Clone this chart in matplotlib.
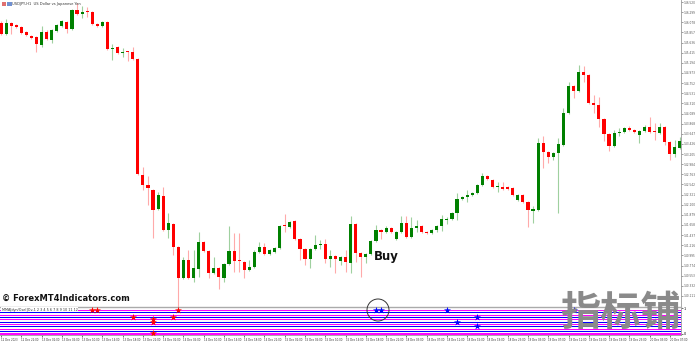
import matplotlib.pyplot as plt
from matplotlib.patches import Ellipse
import numpy as np

plt.rcParams['font.family'] = ['DejaVu Sans', 'Noto Sans CJK SC']

# USDJPY H1 candles (open, high, low, close)
opens = [146.06, 145.82, 146.06, 146.02, 145.98, 145.87, 145.78, 145.76, 145.58, 145.87,
         145.69, 145.89, 146.00, 146.08, 145.93, 146.35, 146.26, 146.30, 146.30, 146.04,
         146.00, 146.08, 145.50, 145.54, 145.41, 145.43, 145.43, 145.28, 142.75, 142.53,
         142.42, 142.01, 142.29, 141.55, 141.68, 141.18, 140.50, 140.90, 140.50, 140.70,
         141.29, 141.09, 140.61, 140.72, 140.50, 140.81, 141.09, 140.87, 140.85, 140.68,
         140.74, 141.07, 141.18, 141.03, 141.07, 141.16, 141.64, 141.62, 141.75, 141.35,
         141.14, 140.92, 141.14, 141.22, 141.24, 140.92, 140.98, 140.87, 140.96, 140.83,
         141.68, 141.05, 140.96, 141.03, 141.31, 141.55, 141.51, 141.59, 141.35, 141.51,
         141.70, 141.40, 141.59, 141.64, 141.51, 141.48, 141.55, 141.64, 141.77, 141.79,
         141.92, 142.23, 142.27, 142.31, 142.36, 142.53, 142.73, 142.64, 142.49, 142.49,
         142.49, 142.47, 142.20, 142.31, 142.16, 141.96, 141.99, 143.45, 143.25, 143.14,
         143.23, 143.40, 144.10, 144.69, 144.58, 144.99, 144.93, 144.32, 144.28, 143.97,
         143.64, 143.38, 143.67, 143.69, 143.77, 143.73, 143.62, 143.71, 143.80, 143.69,
         143.67, 143.80, 143.47, 143.21, 143.34]
highs = [146.11, 146.15, 146.08, 146.04, 146.00, 145.89, 145.80, 145.78, 146.00, 145.91,
         145.93, 146.04, 146.13, 146.11, 146.37, 146.50, 146.43, 146.41, 146.32, 146.06,
         146.11, 146.11, 145.60, 145.56, 145.52, 145.45, 145.54, 145.30, 142.92, 142.73,
         142.44, 142.38, 142.49, 141.92, 141.70, 141.20, 140.96, 141.11, 141.11, 141.51,
         141.31, 141.11, 140.96, 140.74, 140.83, 141.64, 141.48, 141.48, 140.87, 140.90,
         141.11, 141.29, 141.27, 141.14, 141.18, 141.66, 141.90, 141.75, 141.77, 141.38,
         141.16, 141.16, 141.44, 141.33, 141.35, 141.11, 141.00, 140.98, 141.11, 141.86,
         141.70, 141.07, 141.05, 141.33, 141.66, 141.57, 141.64, 141.62, 141.53, 141.86,
         141.86, 141.83, 141.77, 141.66, 141.53, 141.57, 141.66, 141.88, 141.83, 141.94,
         142.36, 142.29, 142.42, 142.38, 142.55, 142.79, 142.75, 142.66, 142.60, 142.60,
         142.51, 142.49, 142.33, 142.33, 142.18, 142.07, 143.56, 143.60, 143.27, 143.25,
         143.56, 144.21, 144.78, 144.71, 145.15, 145.13, 144.95, 144.49, 144.45, 143.99,
         143.67, 143.73, 143.77, 143.80, 143.82, 143.75, 143.73, 143.84, 144.01, 143.88,
         143.88, 143.82, 143.49, 143.51, 143.58]
lows = [145.80, 145.80, 145.82, 145.95, 145.82, 145.78, 145.71, 145.43, 145.54, 145.69,
        145.63, 145.87, 145.98, 145.84, 145.91, 146.24, 146.17, 146.19, 146.02, 145.98,
        145.98, 145.47, 145.26, 145.39, 145.32, 145.23, 145.26, 142.75, 142.42, 142.10,
        141.38, 141.99, 141.53, 141.38, 141.00, 139.87, 140.48, 140.48, 140.42, 140.53,
        141.07, 140.50, 140.59, 140.26, 140.42, 140.79, 140.63, 140.63, 140.50, 140.66,
        140.72, 141.05, 141.00, 141.00, 141.05, 141.14, 141.51, 141.59, 141.33, 140.90,
        140.79, 140.72, 141.11, 141.14, 140.83, 140.74, 140.61, 140.79, 140.63, 140.61,
        140.85, 140.53, 140.83, 141.00, 141.29, 141.35, 141.48, 141.48, 141.33, 141.48,
        141.38, 141.38, 141.51, 141.48, 141.46, 141.46, 141.51, 141.53, 141.68, 141.77,
        141.77, 142.20, 142.16, 142.29, 142.33, 142.51, 142.64, 142.47, 142.38, 142.42,
        142.42, 142.29, 142.18, 142.14, 141.62, 141.70, 141.96, 142.90, 143.01, 143.08,
        141.92, 143.38, 144.08, 144.43, 144.56, 144.78, 144.30, 144.10, 143.80, 143.49,
        143.27, 143.36, 143.60, 143.67, 143.71, 143.67, 143.45, 143.69, 143.67, 143.51,
        143.64, 143.40, 143.08, 143.14, 143.32]
closes = [145.82, 146.06, 146.00, 145.98, 145.84, 145.80, 145.74, 145.60, 145.87, 145.71,
          145.91, 146.02, 146.11, 145.93, 146.35, 146.26, 146.30, 146.28, 146.04, 146.00,
          146.08, 145.50, 145.52, 145.41, 145.43, 145.41, 145.28, 142.77, 142.53, 142.47,
          141.99, 142.31, 141.55, 141.70, 141.18, 140.50, 140.90, 140.50, 140.72, 141.29,
          141.09, 140.61, 140.72, 140.53, 140.81, 141.09, 140.87, 140.85, 140.68, 140.74,
          141.07, 141.18, 141.03, 141.11, 141.16, 141.64, 141.62, 141.72, 141.35, 141.14,
          140.92, 141.14, 141.22, 141.24, 140.92, 140.98, 140.92, 140.96, 140.85, 141.68,
          141.05, 140.96, 141.03, 141.31, 141.55, 141.51, 141.59, 141.51, 141.51, 141.70,
          141.40, 141.59, 141.64, 141.51, 141.48, 141.55, 141.64, 141.79, 141.79, 141.92,
          142.23, 142.27, 142.31, 142.36, 142.53, 142.73, 142.66, 142.49, 142.51, 142.44,
          142.44, 142.31, 142.31, 142.16, 141.99, 142.01, 143.45, 143.25, 143.14, 143.23,
          143.43, 144.10, 144.69, 144.58, 144.99, 144.93, 144.32, 144.28, 143.97, 143.64,
          143.38, 143.67, 143.69, 143.77, 143.73, 143.69, 143.71, 143.80, 143.69, 143.67,
          143.80, 143.47, 143.21, 143.36, 143.49]

price_ticks = [146.520, 146.299, 146.078, 145.857, 145.636, 145.415, 145.194, 144.973,
               144.752, 144.531, 144.310, 144.089, 143.868, 143.647, 143.426, 143.205,
               142.984, 142.763, 142.542, 142.321, 142.100, 141.879, 141.658, 141.437,
               141.216, 140.995, 140.774, 140.553, 140.332, 140.111]

time_labels = ['12 Dec 2023', '12 Dec 22:00', '13 Dec 02:00', '13 Dec 06:00', '13 Dec 10:00',
               '13 Dec 14:00', '13 Dec 18:00', '13 Dec 22:00', '14 Dec 02:00', '14 Dec 06:00',
               '14 Dec 10:00', '14 Dec 14:00', '14 Dec 18:00', '14 Dec 22:00', '15 Dec 02:00',
               '15 Dec 06:00', '15 Dec 10:00', '15 Dec 14:00', '15 Dec 18:00', '15 Dec 22:00',
               '18 Dec 03:00', '18 Dec 07:00', '18 Dec 11:00', '18 Dec 15:00', '18 Dec 19:00',
               '18 Dec 23:00', '19 Dec 03:00', '19 Dec 07:00', '19 Dec 11:00', '19 Dec 15:00',
               '19 Dec 19:00', '19 Dec 23:00', '20 Dec 03:00', '20 Dec 07:00']

# indicator window: level lines and stars
line_levels = [0.93, 0.85, 0.75, 0.67, 0.56, 0.48, 0.39, 0.31, 0.20, 0.12, 0.0]
line_colors = ['magenta', 'blue', 'magenta', 'blue', 'magenta', 'blue',
               'magenta', 'blue', 'magenta', 'blue', 'magenta']
red_star_bar = [18, 19, 26, 30, 30, 30, 34, 35, 120]
red_star_lvl = [0.93, 0.93, 0.67, 0.59, 0.48, 0.04, 0.67, 0.93, 0.93]
blue_star_bar = [74, 75, 88, 90, 94, 94, 113]
blue_star_lvl = [0.93, 0.93, 0.93, 0.48, 0.67, 0.31, 0.93]

W, H = 696, 341
fig = plt.figure(figsize=(W / 100, H / 100), dpi=100)
ax = fig.add_axes([0, 1 - 307 / H, 681 / W, 307 / H])
ax2 = fig.add_axes([0, 1 - 335 / H, 681 / W, 28 / H])

x = np.arange(len(opens))
o = np.array(opens)
c = np.array(closes)
up = c >= o
cols = np.where(up, '#008000', '#ff0000')
wick_cols = np.where(up, '#9fd09f', '#ffaaaa')

ax.vlines(x, lows, highs, colors=wick_cols, lw=0.8, zorder=1)
body = np.where(np.abs(c - o) < 0.025, 0.025, c - o)
ax.bar(x, body, bottom=o, width=0.62, color=cols, lw=0, zorder=2)

ax.set_xlim(-0.2, 134.2)
ax.set_ylim(139.87, 146.564)
ax.set_xticks([])
ax.yaxis.tick_right()
ax.set_yticks(price_ticks)
ax.set_yticklabels(['%.3f' % p for p in price_ticks], fontsize=2.1, color='#333333')
ax.tick_params(axis='y', length=1.5, width=0.4, pad=0.6, colors='#555555')
for s in ['top', 'left', 'bottom']:
    ax.spines[s].set_visible(False)
ax.spines['right'].set_color('#999999')
ax.spines['right'].set_linewidth(0.6)

ax.text(73.5, 140.98, 'Buy', fontsize=8.5, fontweight='bold', color='#111111', va='center')
ax.text(0.2, 139.97, '© ForexMT4Indicators.com', fontsize=6, fontweight='bold',
        color='#111111', va='bottom')
ax.text(2.2, 146.47, 'USDJPY,H1  US Dollar vs Japanese Yen', fontsize=2.6,
        color='#333333', va='center')
ax.add_patch(plt.Rectangle((0.1, 146.43), 0.9, 0.08, color='#e07070', lw=0))
ax.add_patch(plt.Rectangle((1.2, 146.43), 0.9, 0.08, color='#7090d0', lw=0))

# indicator window
for lv, lc in zip(line_levels, line_colors):
    ax2.axhline(lv, color=lc, lw=0.75 if lv > 0 else 1.4, zorder=1)
ax2.scatter(red_star_bar, red_star_lvl, marker='*', s=28, color='#ff0000', zorder=3, lw=0)
ax2.scatter(blue_star_bar, blue_star_lvl, marker='*', s=28, color='#0000ff', zorder=3, lw=0)
ax2.text(0.1, 0.93, 'MMA[dyn/Osel]Ov-1 2 3 4 5 6 7 8 9 10 11 12', fontsize=2.4,
         color='#333333', va='center', ha='left',
         bbox=dict(facecolor='white', edgecolor='none', pad=0.3))
ax2.set_xlim(-0.2, 134.2)
ax2.set_ylim(-0.04, 1.04)
ax2.yaxis.tick_right()
ax2.set_yticks([1, 0])
ax2.set_yticklabels(['1', '0'], fontsize=2.4)
ax2.tick_params(axis='y', length=1.5, width=0.4, pad=0.6)
ax2.set_xticks(np.arange(0, 135, 4))
ax2.set_xticklabels(time_labels, fontsize=1.9, ha='left', color='#333333')
ax2.tick_params(axis='x', length=1.5, width=0.4, pad=0.8)
for s in ['left', 'bottom', 'right']:
    ax2.spines[s].set_color('#999999')
    ax2.spines[s].set_linewidth(0.6)
ax2.spines['top'].set_color('#aaaaaa')
ax2.spines['top'].set_linewidth(1.0)
ax2.spines['left'].set_visible(False)

# circle around the buy signal stars
fig.patches.append(Ellipse((378 / W, 1 - 310 / H), 22 / W, 22 / H,
                           transform=fig.transFigure, fill=False, ec='#333333', lw=0.7))

fig.text(620 / W, 1 - 313 / H, '指标铺', fontsize=29, fontweight='bold', color='#8a8a8a',
         family=['Noto Sans CJK SC'], ha='center', va='center', zorder=10)

fig.savefig('out.png', dpi=100)
